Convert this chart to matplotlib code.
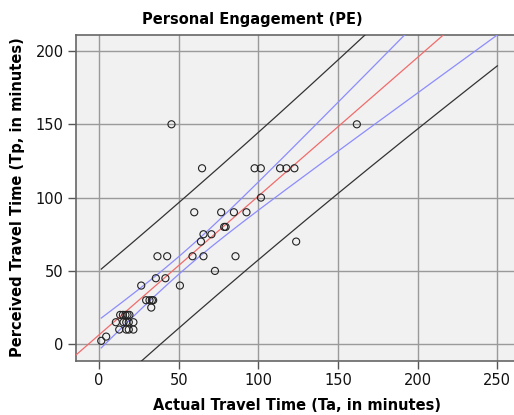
#!/usr/bin/env python3
"""Scatter of perceived vs actual travel time with fit line and intervals"""

import numpy as np
import matplotlib

matplotlib.use("Agg")
import matplotlib.pyplot as plt

# Actual travel time (Ta) and perceived travel time (Tp)
actual = [
    1.3, 4.4,
    13.2, 14.9, 16.5, 17.8, 19.0,
    10.5, 15.3, 17.0, 18.6, 21.5,
    12.6, 17.0, 18.6, 21.5,
    26.4, 29.5, 31.6, 33.1, 33.9, 32.7,
    35.6, 41.6, 36.6, 42.7, 50.7,
    58.6, 65.5, 85.6, 72.7, 63.9, 65.5, 70.5, 78.5, 79.4,
    59.7, 76.6, 84.6, 92.5, 123.7,
    45.4, 64.6, 97.6, 101.5, 113.6, 117.6, 122.6, 101.6, 161.8,
]
perceived = [
    2.3, 5.2,
    20, 20, 20, 20, 20,
    15, 15, 15, 15, 15,
    10, 10, 10, 10,
    40, 30, 30, 30, 30, 25,
    45, 45, 60, 60, 40,
    60, 60, 60, 50, 70, 75, 75, 80, 80,
    90, 90, 90, 90, 70,
    150, 120, 120, 120, 120, 120, 120, 100, 150,
]

x_ticks = [0, 50, 100, 150, 200, 250]
y_ticks = [0, 50, 100, 150, 200]

title = "Personal Engagement (PE)"
x_label = "Actual Travel Time (Ta, in minutes)"
y_label = "Perceived Travel Time (Tp, in minutes)"


def fit_with_intervals(x, y, grid, t_crit=2.01):
    """Least squares line plus mean (CI) and individual (PI) 95% bands"""
    x = np.asarray(x, dtype=float)
    y = np.asarray(y, dtype=float)
    n = len(x)
    slope, intercept = np.polyfit(x, y, 1)
    resid = y - (intercept + slope * x)
    s = np.sqrt(np.sum(resid ** 2) / (n - 2))
    sxx = np.sum((x - x.mean()) ** 2)
    yhat = intercept + slope * grid
    se_mean = s * np.sqrt(1.0 / n + (grid - x.mean()) ** 2 / sxx)
    se_ind = s * np.sqrt(1.0 + 1.0 / n + (grid - x.mean()) ** 2 / sxx)
    return slope, intercept, yhat, t_crit * se_mean, t_crit * se_ind


fig = plt.figure(figsize=(5.14, 4.15), dpi=100)
ax = fig.add_axes([0.148, 0.131, 0.866, 0.785])
ax.set_facecolor("#f1f1f1")

xlim = (-14.5, 265)
ylim = (-11.2, 211)

band_x = np.linspace(min(actual), 250, 300)
slope, intercept, yhat, ci, pi = fit_with_intervals(actual, perceived, band_x)

# Fit line over the whole axis
line_x = np.linspace(xlim[0], xlim[1], 50)
ax.plot(line_x, intercept + slope * line_x, color="#f26b6b", lw=0.9, zorder=3)

# Mean confidence band and individual prediction band
ax.plot(band_x, yhat + ci, color="#8c8cff", lw=0.9, zorder=3)
ax.plot(band_x, yhat - ci, color="#8c8cff", lw=0.9, zorder=3)
ax.plot(band_x, yhat + pi, color="#333333", lw=0.9, zorder=3)
ax.plot(band_x, yhat - pi, color="#333333", lw=0.9, zorder=3)

ax.scatter(
    actual,
    perceived,
    s=26,
    facecolors="none",
    edgecolors="#222222",
    linewidths=0.8,
    zorder=4,
)

ax.set_xlim(*xlim)
ax.set_ylim(*ylim)
ax.set_xticks(x_ticks)
ax.set_yticks(y_ticks)
ax.grid(True, color="#9a9a9a", lw=1.0)
ax.set_axisbelow(True)
ax.tick_params(direction="out", length=6, width=1.0, color="#555555",
               labelsize=10.5, pad=3, labelcolor="#111111")
for spine in ax.spines.values():
    spine.set_color("#666666")
    spine.set_linewidth(1.2)

fig.text(0.49, 0.952, title, ha="center", va="center",
         fontsize=10.5, fontweight="bold")
fig.text(0.578, 0.024, x_label, ha="center", va="center",
         fontsize=10.5, fontweight="bold")
fig.text(0.035, 0.525, y_label, ha="center", va="center", rotation=90,
         fontsize=10.5, fontweight="bold")

fig.savefig("out.png", dpi=100)
